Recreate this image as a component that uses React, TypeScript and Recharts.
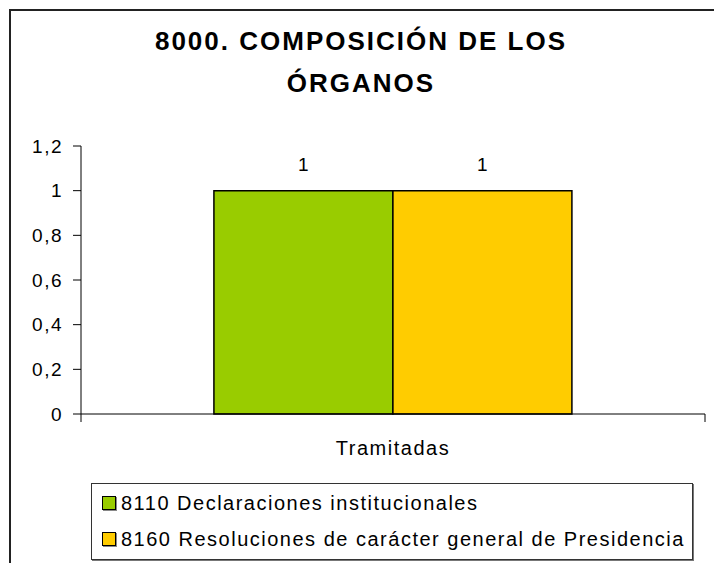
import { BarChart, Bar, XAxis, YAxis, LabelList } from 'recharts';

const categories = ['Tramitadas'];
const declaraciones = [1];
const resoluciones = [1];
const seriesNames = ['8110 Declaraciones institucionales', '8160 Resoluciones de carácter general de Presidencia'];
const seriesColors = ['#99CC00', '#FFCC00'];
const yTicks = [0, 0.2, 0.4, 0.6, 0.8, 1, 1.2];

const data = categories.map((name, i) => ({
  name,
  s8110: declaraciones[i],
  s8160: resoluciones[i],
}));

const font = '"Liberation Sans", Arial, sans-serif';

const CategoryTick = (props: any) => {
  const { x, y, payload } = props;
  const half = payload?.offset ?? 0;
  return (
    <g>
      <line x1={x - half} x2={x - half} y1={y} y2={y + 8} stroke="#000" />
      <line x1={x + half} x2={x + half} y1={y} y2={y + 8} stroke="#000" />
      <text x={x} y={y + 34} textAnchor="middle" dominantBaseline="central" fontSize={20} fill="#000" fontFamily={font} style={{ letterSpacing: '1.5px' }}>
        {payload.value}
      </text>
    </g>
  );
};

export default function App() {
  return (
    <div style={{ position: 'absolute', left: 0, top: 0, width: 714, height: 563, overflow: 'hidden', background: '#fff', fontFamily: font }}>
      <div style={{ position: 'absolute', left: 9, top: 9, width: 760, height: 620, border: '2px solid #222' }} />
      <div style={{ position: 'absolute', left: 0, top: 20, width: 722, textAlign: 'center', fontSize: 26, fontWeight: 'bold', lineHeight: '42px', letterSpacing: '2px', color: '#000' }}>
        8000. COMPOSICIÓN DE LOS<br />ÓRGANOS
      </div>
      <div style={{ position: 'absolute', left: 0, top: 0 }}>
        <BarChart
          width={714}
          height={563}
          data={data}
          margin={{ top: 146, right: 9, left: 0, bottom: 119 }}
          barGap={0}
          barCategoryGap="21.3%"
        >
          <YAxis
            domain={[0, 1.2]}
            ticks={yTicks}
            width={81}
            tickSize={8}
            tickMargin={10}
            axisLine={{ stroke: '#000' }}
            tickLine={{ stroke: '#000' }}
            tick={{ fill: '#000', fontSize: 19, fontFamily: font, style: { letterSpacing: '1.5px' } }}
            tickFormatter={(v: number) => String(v).replace('.', ',')}
            interval={0}
          />
          <XAxis
            dataKey="name"
            height={30}
            axisLine={{ stroke: '#000' }}
            tickLine={false}
            tickSize={0}
            tickMargin={0}
            tick={<CategoryTick />}
          />
          <Bar dataKey="s8110" name={seriesNames[0]} fill={seriesColors[0]} stroke="#000" strokeWidth={1.5} isAnimationActive={false}>
            <LabelList dataKey="s8110" position="top" offset={20} fill="#000" fontSize={19} fontFamily={font} />
          </Bar>
          <Bar dataKey="s8160" name={seriesNames[1]} fill={seriesColors[1]} stroke="#000" strokeWidth={1.5} isAnimationActive={false}>
            <LabelList dataKey="s8160" position="top" offset={20} fill="#000" fontSize={19} fontFamily={font} />
          </Bar>
        </BarChart>
      </div>
      <div style={{ position: 'absolute', left: 91, top: 483, width: 602, height: 77, boxSizing: 'border-box', border: '1px solid #333', boxShadow: '1px 1px 0 #777', background: '#fff' }}>
        {seriesNames.map((n, i) => (
          <div key={n} style={{ position: 'absolute', left: 10, top: 11 + i * 36, height: 16, display: 'flex', alignItems: 'center', whiteSpace: 'nowrap', fontSize: 20, letterSpacing: '1.5px', color: '#000' }}>
            <span style={{ display: 'inline-block', width: 12, height: 12, background: seriesColors[i], border: '1.5px solid #000', boxShadow: '1px 1px 0 #888', marginRight: 5 }} />
            {n}
          </div>
        ))}
      </div>
    </div>
  );
}
